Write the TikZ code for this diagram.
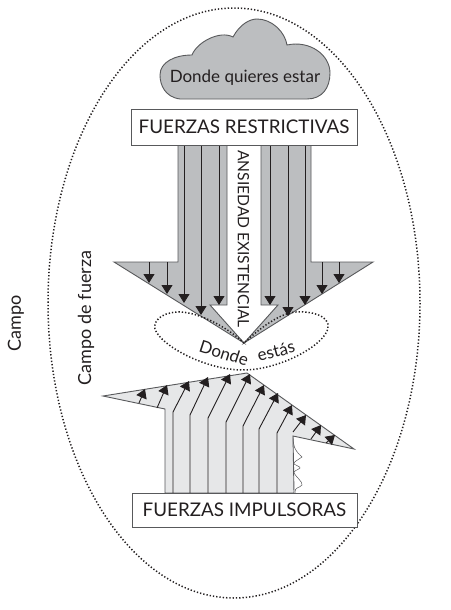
\documentclass[tikz,border=0pt]{standalone}
\usepackage{fontspec}
\setmainfont{Lato}
\usetikzlibrary{arrows.meta,positioning}
\definecolor{ink}{RGB}{35,31,32}
\definecolor{g1}{RGB}{188,190,192}
\definecolor{g2}{RGB}{230,231,232}
\definecolor{g3}{RGB}{88,89,91}

\begin{document}
\begin{tikzpicture}[
        x=1pt, y=-1pt,
        lbl/.style={font=\fontsize{17}{20}\selectfont, text=ink, inner sep=0pt},
        band/.style={rectangle, draw=g3, line width=0.8pt, fill=white, font=\fontsize{18.8}{22}\selectfont, text=ink, inner sep=0pt},
        fieldline/.style={draw=ink, line width=1.5pt, dash pattern=on 1.3pt off 2pt},
        frz/.style={draw=ink, line width=0.9pt, -{Triangle[length=9pt,width=11pt]}},
    ]
        \useasboundingbox (0,0) rectangle (450,610);
        \fill[white] (0,0) rectangle (450,610);

        % Outer field
        \draw[fieldline] (234,303) ellipse [x radius=186, y radius=295];

        % Cloud
        \draw[draw=g3, line width=0.9pt, fill=g1] (180,99) .. controls (165,97) and (160,85) .. (160,75)
            .. controls (160,62) and (175,55) .. (192,55)
            .. controls (197,42) and (220,30) .. (233,37)
            .. controls (240,24) and (250,19) .. (257,19)
            .. controls (272,19) and (285,32) .. (287,45)
            .. controls (310,40) and (330,55) .. (330,73)
            .. controls (330,88) and (322,99) .. (307,99) -- cycle;
        \node[lbl] (WANT) at (245,78) {Donde quieres estar};

        % Restraining arrow
        \draw[draw=g3, line width=0.9pt, fill=g1] (178,145) -- (178,262) -- (114,262) -- (244,343) -- (210,305) -- (227,305) -- (227,145) -- cycle;
        \draw[draw=g3, line width=0.9pt, fill=g1] (311,145) -- (311,262) -- (373,262) -- (244,343) -- (278,305) -- (261,305) -- (261,145) -- cycle;
        \foreach \x/\ya/\yb in {149/262/283, 167/262/294, 184/145/303, 201/145/315, 219/145/305,
                                270/145/305, 288/145/316, 305/145/305, 322/262/294, 339/262/283}
            \draw[frz] (\x,\ya) -- (\x,\yb);
        \node[band, minimum width=226pt, minimum height=36pt] (RESTRICT) at (244,127) {FUERZAS RESTRICTIVAS};
        \node[lbl, rotate=-90, font=\fontsize{15.6}{18}\selectfont] (ANXIETY) at (243.5,239) {ANSIEDAD EXISTENCIAL};

        % Where you are
        \draw[fieldline] (244,343) .. controls (225,325) and (195,311) .. (177,312)
            .. controls (160,313) and (153,322) .. (155,329)
            .. controls (160,345) and (205,370) .. (243,370)
            .. controls (280,370) and (325,345) .. (328,328)
            .. controls (330,315) and (310,311) .. (296,312)
            .. controls (280,313) and (260,328) .. (244,343) -- cycle;
        \node[lbl, rotate=-18] (HERE1) at (224,353) {Donde};
        \node[lbl, rotate=15] (HERE2) at (276,351) {estás};

        % Driving arrow
        \draw[draw=g3, line width=0.9pt, fill=g2] (165,493) -- (165,409) -- (103,396) -- (247,373) -- (354,449) -- (293,436) -- (294,493) -- cycle;
        \draw[draw=g3, line width=0.5pt] (293,436) .. controls (293,445) and (294,450) .. (302,457)
            .. controls (298,460) and (293,462) .. (294,464)
            .. controls (296,466) and (300,466) .. (300,468)
            .. controls (298,470) and (293,471) .. (294,473)
            .. controls (296,477) and (303,482) .. (302,485)
            .. controls (300,488) and (294,487) .. (295,493);
        \foreach \xa/\ya/\xb/\yb in {139/403/145/389, 157/408/167/385}
            \draw[frz] (\xa,\ya) -- (\xb,\yb);
        \foreach \x/\yk/\xb/\yb in {173/412/189/381, 190/415/208/377, 208/418/230/374, 226/422/250/374,
                                    243/426/264/385, 259/429/278/393, 277/433/292/405}
            \draw[frz] (\x,493) -- (\x,\yk) -- (\xb,\yb);
        \foreach \xa/\ya/\xb/\yb in {293/432/306/415, 311/439/321/425, 326/443/335/435}
            \draw[frz] (\xa,\ya) -- (\xb,\yb);
        \node[band, minimum width=225pt, minimum height=34pt] (IMPULSE) at (244.5,510) {FUERZAS IMPULSORAS};

        % Outside labels
        \node[lbl, rotate=90, font=\fontsize{18}{20}\selectfont] (FORCE) at (86,318) {Campo de fuerza};
        \node[lbl, rotate=90, font=\fontsize{18}{20}\selectfont] (FIELD) at (16,323) {Campo};
    \end{tikzpicture}
\end{document}
